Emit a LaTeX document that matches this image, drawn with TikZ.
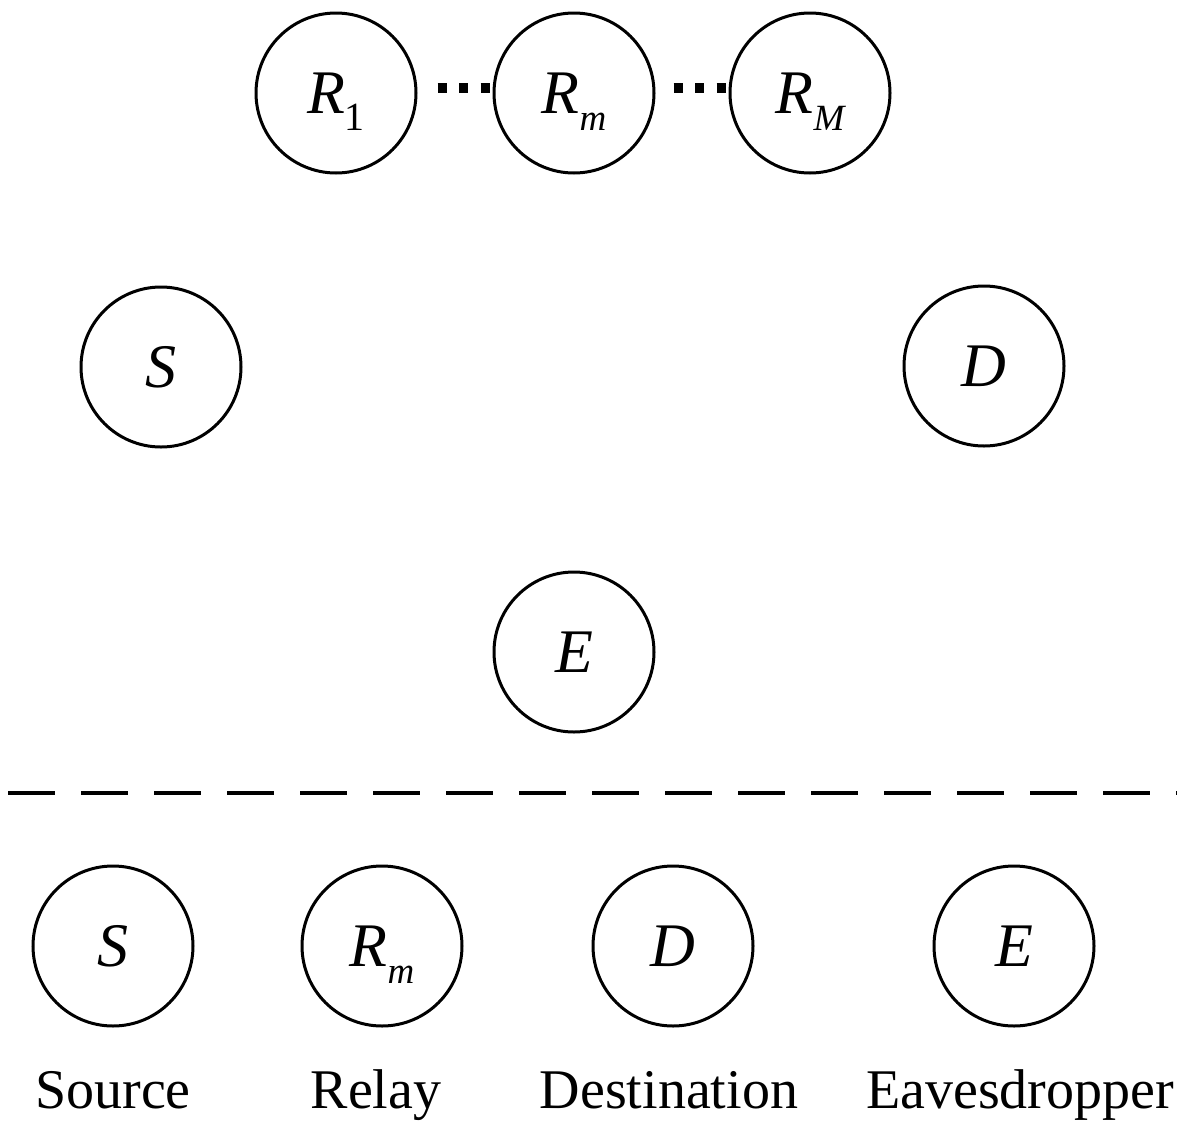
\documentclass[tikz,border=0pt]{standalone}
\usepackage{fontspec}
\setmainfont{Liberation Serif}
\newcommand{\nodeletter}[1]{\fontsize{62}{62}\selectfont\itshape #1}
\newcommand{\subit}[1]{\smash{\raisebox{-17pt}{\fontsize{37}{37}\selectfont\itshape #1}}}
\newcommand{\subup}[1]{\smash{\raisebox{-17pt}{\fontsize{40}{40}\selectfont\upshape #1}}}
\begin{document}
\begin{tikzpicture}[x=1pt,y=-1pt,
  agent/.style={draw=black,line width=3pt,circle,minimum size=160pt,inner sep=0pt,font=\nodeletter},
  caption/.style={anchor=base,inner sep=0pt,font=\fontsize{56}{56}\selectfont},
  dotsline/.style={line width=10pt,dash pattern=on 9pt off 12.5pt},
  sepline/.style={line width=3.5pt,dash pattern=on 47pt off 26pt}]
\useasboundingbox (0,0) rectangle (1179,1125);
% top row relays
\node[agent] (R1) at (336,93) {R\subup{1}};
\node[agent] (Rm) at (574,93) {R\subit{m}};
\node[agent] (RM) at (810,93) {R\subit{M}};
\draw[dotsline] ([xshift=20pt,yshift=5.5pt]R1.east) -- ([yshift=5.5pt]Rm.west);
\draw[dotsline] ([xshift=18pt,yshift=5.5pt]Rm.east) -- ([yshift=5.5pt]RM.west);
% middle
\node[agent] (S) at (161,367) {S};
\node[agent] (D) at (984,366) {D};
\node[agent] (E) at (574,652) {E};
% separator
\coordinate (sepL) at (8,793);
\coordinate (sepR) at (1177,793);
\draw[sepline] (sepL) -- (sepR);
% legend
\node[agent] (lS) at (113,946) {S};
\node[agent] (lR) at (382,946) {R\subit{m}};
\node[agent] (lD) at (673,946) {D};
\node[agent] (lE) at (1014,946) {E};
\node[caption] (tS) at (113,1108) {Source};
\node[caption] (tR) at (376,1108) {Relay};
\node[caption] (tD) at (669,1108) {Destination};
\node[caption] (tE) at (1020,1108) {Eavesdropper};
\end{tikzpicture}
\end{document}
